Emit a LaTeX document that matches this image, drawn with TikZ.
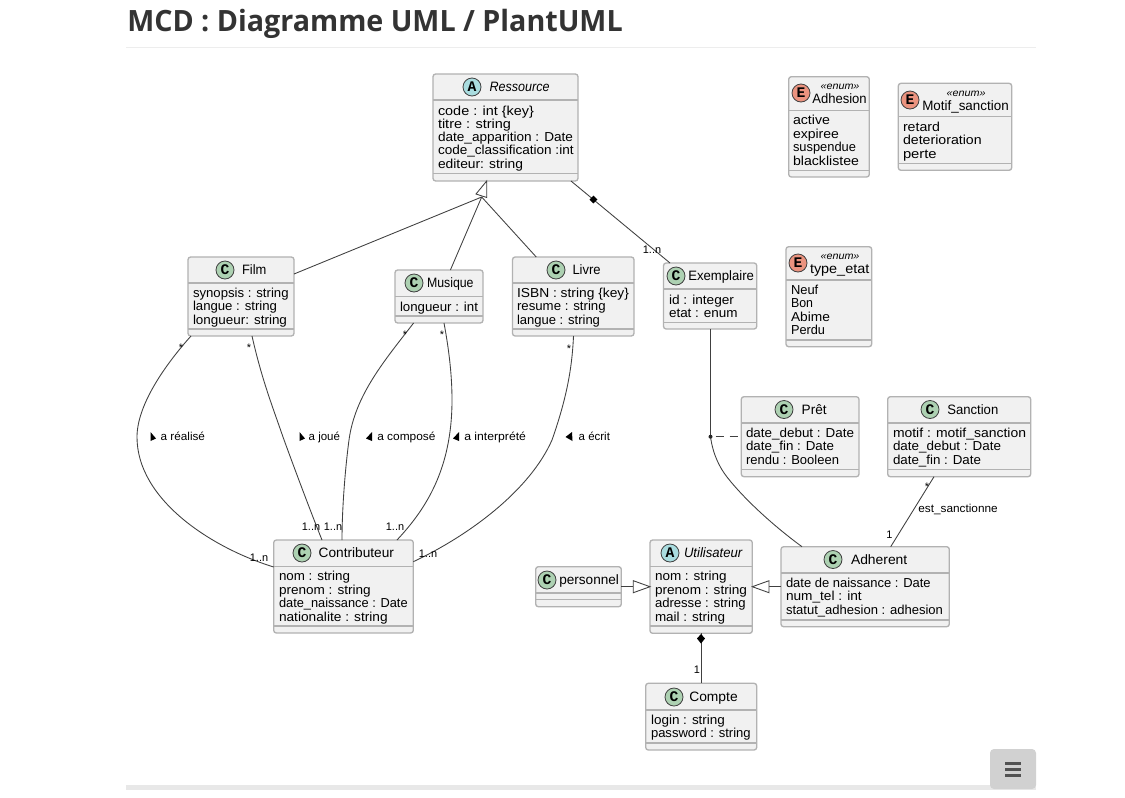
\documentclass[tikz,border=0pt]{standalone}
\usepackage{graphicx}
\usepackage{fontspec}
\setmainfont{Liberation Sans}
\newfontfamily\titlefont{Open Sans}
\newfontfamily\glyphfont{Liberation Mono}
\usetikzlibrary{calc}
\definecolor{boxfill}{HTML}{F1F1F1}
\definecolor{boxline}{HTML}{B2B2B2}
\definecolor{conn}{HTML}{404040}
\definecolor{ccirc}{HTML}{ADD1B2}
\definecolor{acirc}{HTML}{A9DCDF}
\definecolor{ecirc}{HTML}{EB937F}
\definecolor{headtxt}{HTML}{333333}
\tikzset{
  umlbox/.style={draw=boxline,fill=boxfill,line width=1pt,rounded corners=2pt,inner sep=0pt,outer sep=0pt},
  sepline/.style={draw=boxline,line width=1pt},
  conline/.style={draw=conn,line width=0.65pt},
  bodytxt/.style={anchor=base west,inner sep=0pt,outer sep=0pt,font=\fontsize{9.75pt}{11pt}\selectfont},
  headtext/.style={anchor=base west,inner sep=0pt,outer sep=0pt,font=\fontsize{10.2pt}{12pt}\selectfont},
  heademph/.style={anchor=base west,inner sep=0pt,outer sep=0pt,font=\fontsize{10.2pt}{12pt}\selectfont\itshape},
  stereo/.style={anchor=center,inner sep=0pt,outer sep=0pt,font=\fontsize{7.6pt}{9pt}\selectfont\itshape},
  linktxt/.style={anchor=base west,inner sep=0pt,outer sep=0pt,font=\fontsize{8.6pt}{10pt}\selectfont},
  cardtxt/.style={anchor=center,inner sep=0pt,outer sep=0pt,font=\fontsize{8.2pt}{10pt}\selectfont},
  spot/.style={circle,draw=conn,line width=0.6pt,minimum size=13.5pt,inner sep=0pt,outer sep=0pt,font=\fontsize{11pt}{11pt}\selectfont\glyphfont\bfseries},
  hollowtip/.style={draw=conn,fill=white,line width=0.65pt,line join=miter}
}
\newcounter{tx}
\newcommand{\fitw}[3]{\pgfmathsetlengthmacro\tw{(#2-#1)*0.75pt}\resizebox{\tw}{\height}{#3}}
\newcommand{\umlclass}[7]{% name x1 y1 x2 y2 sep1 sep2
  \node[umlbox,minimum width=#4*0.75pt-#2*0.75pt,minimum height=#5*0.75pt-#3*0.75pt] (#1) at ({(#2+#4)/2},{(#3+#5)/2}) {};
  \draw[sepline] (#2,#6) -- (#4,#6);
  \draw[sepline] (#2,#7) -- (#4,#7);
}
\newcommand{\spt}[4]{\stepcounter{tx}\node[spot,fill=#4] (s\thetx) at (#1,#2) {#3};}
\newcommand{\hd}[4]{\stepcounter{tx}\node[headtext] (h\thetx) at (#1,#2) {\fitw{#1}{#3}{#4}};}
\newcommand{\hdi}[4]{\stepcounter{tx}\node[heademph] (h\thetx) at (#1,#2) {\fitw{#1}{#3}{#4}};}
\newcommand{\st}[2]{\stepcounter{tx}\node[stereo] (e\thetx) at (#1,#2) {\fitw{0}{39}{«enum»}};}
\newcommand{\bt}[4]{\stepcounter{tx}\node[bodytxt] (b\thetx) at (#1,#2) {\fitw{#1}{#3}{#4}};}
\newcommand{\lk}[4]{\stepcounter{tx}\node[linktxt] (l\thetx) at (#1,#2) {\fitw{#1}{#3}{#4}};}
\newcommand{\cd}[3]{\stepcounter{tx}\node[cardtxt] (c\thetx) at (#1,#2) {#3};}
\begin{document}
\begin{tikzpicture}[x=0.75pt,y=-0.75pt]
\useasboundingbox (0,0) rectangle (1125,797);
\fill[white] (0,0) rectangle (1125,797);
% page furniture
\node[anchor=base west,inner sep=0pt,text=headtxt,font=\fontsize{22pt}{26pt}\selectfont\titlefont\bfseries] (pagetitle) at (127,31) {\fitw{127}{622.5}{MCD : Diagramme UML / PlantUML}};
\fill[black!7] (126,47) rectangle (1036,48);
\fill[black!9] (126,785) rectangle (1036,790);
\fill[black!18,rounded corners=3pt] (990,749) rectangle (1036,789);
\foreach \yy in {763,769,775} \fill[black!68] (1005,\yy-1.5) rectangle (1021,\yy+1.5);
% boxes
\umlclass{res}{433}{74}{578}{181}{100}{173.5}
\umlclass{film}{188}{257}{294}{336}{283}{329}
\umlclass{mus}{395}{270}{483}{323}{296.5}{316}
\umlclass{liv}{512.5}{257}{634}{336}{283}{329}
\umlclass{exe}{663.5}{263}{756.7}{329}{289}{322.7}
\umlclass{adh}{788.7}{76.7}{869.3}{177}{110.5}{170.5}
\umlclass{mot}{898.3}{83.3}{1011.7}{170.3}{116.7}{163.5}
\umlclass{typ}{786}{246.7}{871.7}{346.7}{280}{340}
\umlclass{con}{273.7}{540}{413.3}{633}{566.3}{626}
\umlclass{pre}{741.3}{396.7}{859}{476.7}{423}{469.7}
\umlclass{san}{887.7}{396.7}{1030.7}{476.7}{423}{469.7}
\umlclass{uti}{650}{540}{752.3}{633.3}{566.3}{626}
\umlclass{adr}{781}{546.7}{949.3}{626.7}{573}{620}
\umlclass{per}{535.7}{566.7}{621.3}{606.7}{593}{599.5}
\umlclass{cpt}{645.7}{683.3}{756.7}{750}{710}{743}
% headers
\spt{472}{87}{A}{acirc}\hdi{489.6}{91.5}{549.6}{Ressource}
\spt{225}{270}{C}{ccirc}\hd{242}{274.5}{266.4}{Film}
\spt{414}{283}{C}{ccirc}\hd{427}{287.5}{473.6}{Musique}
\spt{556}{270}{C}{ccirc}\hd{572.5}{274.5}{600.7}{Livre}
\spt{676}{276}{C}{ccirc}\hd{688.3}{280.5}{754}{Exemplaire}
\spt{801}{93}{E}{ecirc}\st{840}{87}\hd{812.3}{103}{866.7}{Adhesion}
\spt{910}{100}{E}{ecirc}\st{966}{94}\hd{922.3}{110}{1008.7}{Motif\_sanction}
\spt{798}{263}{E}{ecirc}\st{840}{257}\hd{810}{273}{869.3}{type\_etat}
\spt{302}{553}{C}{ccirc}\hd{318.7}{557.5}{394}{Contributeur}
\spt{784}{409.5}{C}{ccirc}\hd{801.7}{414}{826.7}{Prêt}
\spt{930}{409.5}{C}{ccirc}\hd{947.3}{414}{998.3}{Sanction}
\spt{670}{553}{A}{acirc}\hdi{684}{557.5}{742.3}{Utilisateur}
\spt{833}{559.5}{C}{ccirc}\hd{851}{564}{907.3}{Adherent}
\spt{547}{580}{C}{ccirc}\hd{559.3}{584.5}{619}{personnel}
\spt{674}{697}{C}{ccirc}\hd{689.3}{701.5}{737.7}{Compte}
% attributes
\bt{438}{115}{534}{code : int \{key\}}
\bt{438}{128.5}{511}{titre : string}
\bt{438}{141.5}{573}{date\_apparition : Date}
\bt{438}{154.5}{573.6}{code\_classification :int}
\bt{438}{168}{523}{editeur: string}
\bt{193}{297}{288.6}{synopsis : string}
\bt{193}{310}{277}{langue : string}
\bt{193}{324}{287}{longueur: string}
\bt{400}{311}{478}{longueur : int}
\bt{517}{297}{629}{ISBN : string \{key\}}
\bt{517}{310}{605.7}{resume : string}
\bt{517}{324}{600}{langue : string}
\bt{669}{304.5}{734}{id : integer}
\bt{669}{317.5}{737.7}{etat : enum}
\bt{793}{124.5}{830}{active}
\bt{793}{138}{839}{expiree}
\bt{793}{151}{856}{suspendue}
\bt{793}{165}{859}{blacklistee}
\bt{903}{131.5}{940}{retard}
\bt{903}{144.5}{981.7}{deterioration}
\bt{903}{158}{936.7}{perte}
\bt{791}{294.5}{818.3}{Neuf}
\bt{791}{307.5}{813}{Bon}
\bt{791}{321}{830}{Abime}
\bt{791}{334}{825}{Perdu}
\bt{279}{580.5}{350}{nom : string}
\bt{279}{594}{370.7}{prenom : string}
\bt{279}{607.5}{407.7}{date\_naissance : Date}
\bt{279}{621}{387.7}{nationalite : string}
\bt{746}{437.5}{854}{date\_debut : Date}
\bt{746}{450.5}{834}{date\_fin : Date}
\bt{746}{464}{839}{rendu : Booleen}
\bt{893}{437.5}{1026}{motif : motif\_sanction}
\bt{893}{450.5}{1001}{date\_debut : Date}
\bt{893}{464}{981}{date\_fin : Date}
\bt{655}{580.5}{726.7}{nom : string}
\bt{655}{594}{747}{prenom : string}
\bt{655}{607}{745.7}{adresse : string}
\bt{655}{621}{725}{mail : string}
\bt{786}{587.5}{930.7}{date de naissance : Date}
\bt{786}{600.5}{861.7}{num\_tel : int}
\bt{786}{614}{943}{statut\_adhesion : adhesion}
\bt{651}{724.5}{725}{login : string}
\bt{651}{737.5}{750.7}{password : string}
% connector helper points
\coordinate (ibase) at (481.7,197);
\coordinate (assoc) at (710.5,436.7);
% generalisation to Ressource
\draw[conline] (film.east)++(0,-22.5) -- (ibase);
\draw[conline] ($(mus.north)+(11.4,0)$) -- (ibase);
\draw[conline] ($(liv.north)+(-37,0)$) -- (ibase);
\draw[hollowtip] ($(res.south)+(-18.8,0)$) -- (476,194) -- (486.7,197.5) -- cycle;
% composition Ressource - Exemplaire
\draw[conline] ($(res.south east)+(-7,0)$) -- ($(exe.north west)+(6.5,0)$);
\fill[black] (593.4,195.6) -- (597.4,199.6) -- (593.4,203.4) -- (589.6,199.6) -- cycle;
% associations
\draw[conline] ($(film.south west)+(3,0)$) .. controls (165,365) and (137,405) .. (137,437) .. controls (137,500) and (212,548) .. ($(con.north west)+(0,27)$);
\draw[conline] ($(film.south west)+(64,0)$) .. controls (262,380) and (272,405) .. (283,437) .. controls (295,470) and (310,510) .. ($(con.north west)+(48.3,0)$);
\draw[conline] ($(mus.south west)+(18.6,0)$) .. controls (385,360) and (355,395) .. (349,440) .. controls (345,470) and (342,510) .. ($(con.north west)+(68.3,0)$);
\draw[conline] ($(mus.south west)+(49,0)$) .. controls (449,350) and (452,375) .. (452,400) .. controls (452,470) and (425,510) .. ($(con.north west)+(123.3,0)$);
\draw[conline] ($(liv.south west)+(61,0)$) .. controls (572,370) and (566,400) .. (552,440) .. controls (530,490) and (470,535) .. ($(con.north east)+(0,21.7)$);
% Exemplaire - Adherent with association class
\draw[conline] ($(exe.south west)+(47,0)$) -- (assoc) .. controls (713,455) and (720,468) .. (727,477) .. controls (745,500) and (775,527) .. ($(adr.north west)+(21,0)$);
\fill[black!85] (assoc) circle (2);
\draw[conline,dash pattern=on 6pt off 4.5pt] ($(assoc)+(5,0)$) -- (pre.west);
% Sanction - Adherent
\draw[conline] ($(san.south west)+(46.3,0)$) -- ($(adr.north west)+(109.7,0)$);
% personnel, Adherent -> Utilisateur
\draw[conline] (per.east |- 0,586.7) -- (633.3,586.7);
\draw[hollowtip] (uti.west |- 0,586.7) -- (633.3,580.7) -- (633.3,592.7) -- cycle;
\draw[conline] (adr.west |- 0,586.7) -- (769,586.7);
\draw[hollowtip] (uti.east |- 0,586.7) -- (769,580.7) -- (769,592.7) -- cycle;
% Compte - Utilisateur
\draw[conline] (cpt.north -| 701,0) -- (uti.south -| 701,0);
\fill[black] (701,634) -- (705,638.5) -- (701,643.5) -- (697,638.5) -- cycle;
% direction marks
\fill[black] (150.5,432) -- (156,438.5) -- (150.5,441) -- cycle;
\fill[black] (299.5,432) -- (305,438.5) -- (299.5,441) -- cycle;
\fill[black] (372,432) -- (372,441) -- (366,438.5) -- cycle;
\fill[black] (459,432) -- (459,441) -- (453,438.5) -- cycle;
\fill[black] (572,432) -- (572.5,441) -- (565.5,437) -- cycle;
% link labels
\lk{160.7}{440}{205}{a réalisé}
\lk{308.7}{440}{340}{a joué}
\lk{377.3}{440}{435.5}{a composé}
\lk{464.3}{440}{526}{a interprété}
\lk{578.7}{440}{610}{a écrit}
\lk{918.3}{512}{997.7}{est\_sanctionne}
% cardinalities
\cd{181}{348}{*}
\cd{249}{348}{*}
\cd{405}{335}{*}
\cd{442}{335}{*}
\cd{569}{349}{*}
\cd{927}{487}{*}
\cd{311}{527}{1..n}
\cd{333}{527}{1..n}
\cd{395}{527}{1..n}
\cd{259}{558}{1..n}
\cd{428}{553.5}{1..n}
\cd{652}{250}{1..n}
\cd{889.5}{534.5}{1}
\cd{697}{670}{1}
\end{tikzpicture}
\end{document}
